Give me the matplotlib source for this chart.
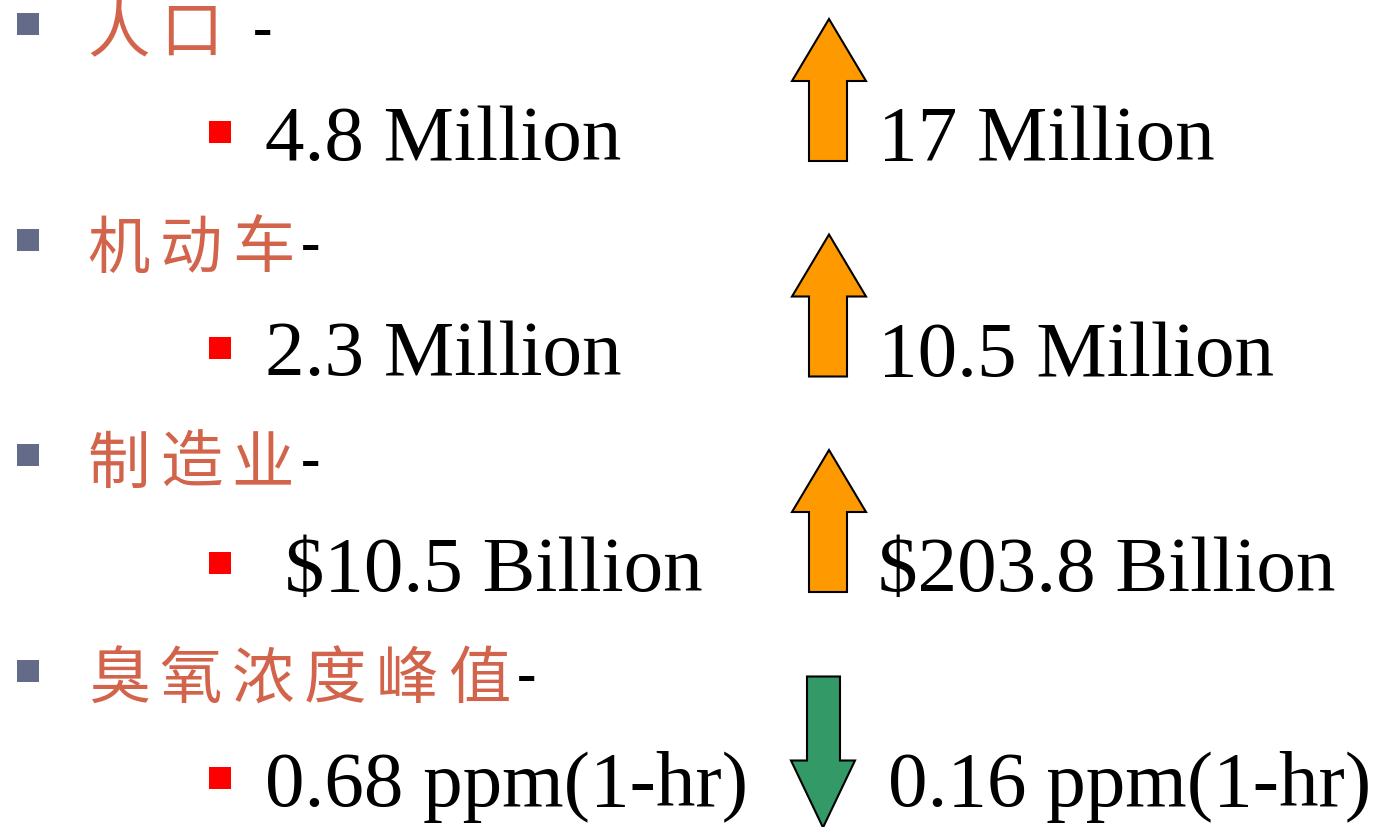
import matplotlib
matplotlib.use("Agg")
import matplotlib.pyplot as plt
from matplotlib.patches import Polygon, Rectangle

# slide content
categories = ["人口", "机动车", "制造业", "臭氧浓度峰值"]
before = ["4.8 Million", "2.3 Million", " $10.5 Billion", "0.68 ppm(1-hr)"]
after = ["17 Million", "10.5 Million", "$203.8 Billion", "0.16 ppm(1-hr)"]
direction = ["up", "up", "up", "down"]

ROW_STEP = 215.5
CAT_Y0 = 30
VAL_BASE0 = 160
CHAR_STEP = 72

CN_COLOR = "#D2644B"
GRAY_BULLET = "#646B88"
ARROW_UP = "#FF9900"
ARROW_DOWN = "#339966"

fig = plt.figure(figsize=(13.88, 8.28), dpi=100)
ax = fig.add_axes([0, 0, 1, 1])
ax.set_xlim(0, 1388)
ax.set_ylim(828, 0)
ax.axis("off")

serif = ["Liberation Serif", "DejaVu Serif"]
cjk = ["Noto Sans CJK SC", "DejaVu Sans"]


def up_arrow(x0, top, bottom, color):
    # x0 = left of head
    hw, sl, sr = 74, 17, 55
    head_base = top + 62
    return Polygon([(x0 + hw / 2, top), (x0 + hw, head_base), (x0 + sr, head_base),
                    (x0 + sr, bottom), (x0 + sl, bottom), (x0 + sl, head_base),
                    (x0, head_base)], closed=True, fc=color, ec="black", lw=1.5)


def down_arrow(x0, top, bottom, color):
    hw, sl, sr = 64, 16, 49
    head_base = bottom - 67
    return Polygon([(x0 + sl, top), (x0 + sr, top), (x0 + sr, head_base),
                    (x0 + hw, head_base), (x0 + hw / 2, bottom), (x0, head_base),
                    (x0 + sl, head_base)], closed=True, fc=color, ec="black", lw=1.5)


for i, (cat, b, a, d) in enumerate(zip(categories, before, after, direction)):
    cy = CAT_Y0 + i * ROW_STEP
    base = VAL_BASE0 + i * ROW_STEP

    # level-1 bullet + chinese label
    ax.add_patch(Rectangle((17, cy - 16), 22, 22, fc=GRAY_BULLET, ec="none"))
    for k, ch in enumerate(cat):
        ax.text(86 + k * CHAR_STEP + 33, cy + 4, ch, family=cjk, fontsize=45,
                fontweight="medium", color=CN_COLOR, ha="center", va="center")
    dash_x = 88 + len(cat) * CHAR_STEP - 3 if len(cat) > 2 else 253
    ax.text(dash_x, cy + 2, "-", family=serif, fontsize=42, fontweight="bold",
            color="black", ha="left", va="center")

    # level-2 bullet + values
    ax.add_patch(Rectangle((209, base - 38), 22, 22, fc="#FF0000", ec="none"))
    ax.text(265, base, b, family=serif, fontsize=57, color="black",
            ha="left", va="baseline")
    ax.text(878 if d == "up" else 888, base, a, family=serif, fontsize=57,
            color="black", ha="left", va="baseline")

    if d == "up":
        ax.add_patch(up_arrow(792, base - 140, base + 2, ARROW_UP))
    else:
        ax.add_patch(down_arrow(791, base - 129, base + 22, ARROW_DOWN))

fig.savefig("out.png", dpi=100, facecolor="white")
